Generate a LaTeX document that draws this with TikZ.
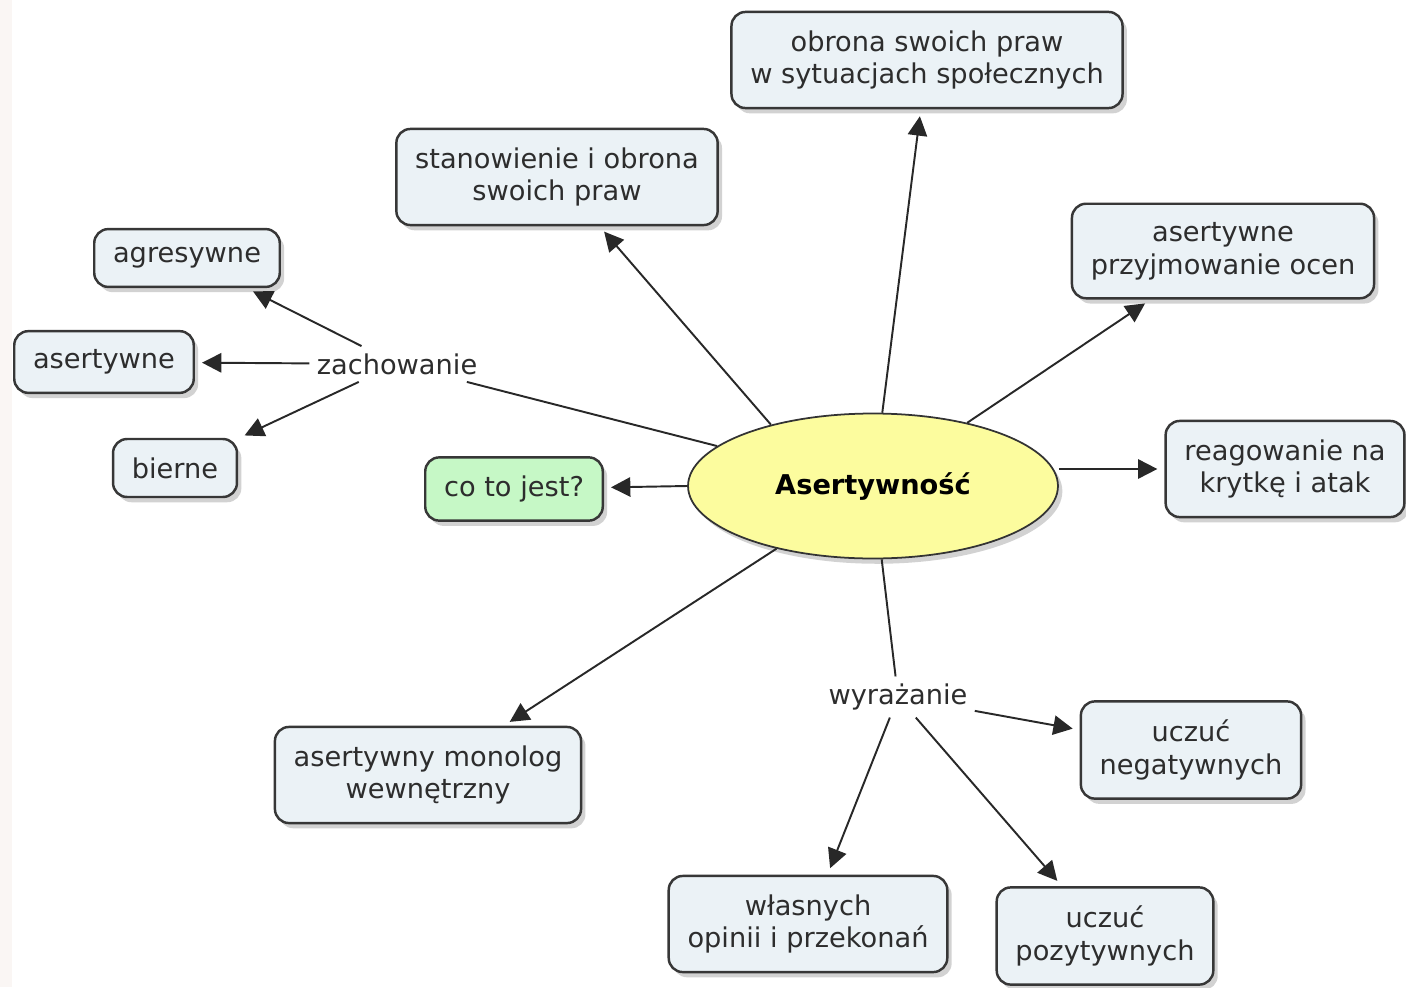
\documentclass[tikz,border=0pt]{standalone}
\usepackage{fontspec}
\setmainfont{DejaVu Sans}
\usetikzlibrary{shapes.geometric,shadows,arrows.meta}
\definecolor{boxfill}{RGB}{235,242,246}
\definecolor{boxline}{RGB}{55,55,55}
\definecolor{ellfill}{RGB}{252,252,158}
\definecolor{cofill}{RGB}{198,248,198}
\definecolor{linecol}{RGB}{40,40,40}
\definecolor{textcol}{RGB}{45,45,45}
\definecolor{stripcol}{RGB}{250,246,244}

\begin{document}
\begin{tikzpicture}[x = 0.02cm, y = -0.02cm,
    font = \fontsize{15.5}{18.7}\selectfont, text = textcol,
    box/.style = {draw = boxline, line width = 1.4pt, fill = boxfill, rounded corners = 8pt,
        align = center, inner xsep = 10.7pt, inner ysep = 10.5pt,
        drop shadow = {shadow xshift = 2.5pt, shadow yshift = -3pt, fill = black!35, opacity = 0.5}},
    lbl/.style = {inner sep = 4pt},
    conn/.style = {line width = 1.1pt, draw = linecol},
    arr/.style = {conn, -{Triangle[length = 11pt, width = 11pt]}, shorten > = 4pt}]
    \useasboundingbox (0,0) rectangle (1406,987);
    \fill[stripcol] (0,0) rectangle (12,987);
    \node[ellipse, draw = black!80, line width = 1pt, fill = ellfill, minimum width = 7.4cm, minimum height = 2.9cm,
        drop shadow = {shadow xshift = 2.5pt, shadow yshift = -3pt, fill = black!35, opacity = 0.5}]
        (CEN) at (873,486) {\bfseries\color{black}Asertywność};
    \node[box] (OBR) at (927,60) {obrona swoich praw\\w sytuacjach społecznych};
    \node[box] (STA) at (557,177) {stanowienie i obrona\\swoich praw};
    \node[box] (OCE) at (1223,251) {asertywne\\przyjmowanie ocen};
    \node[box] (REA) at (1285,469) {reagowanie na\\krytkę i atak};
    \node[box, fill = cofill] (CO) at (514,489) {co to jest?};
    \node[box] (MON) at (428,775) {asertywny monolog\\wewnętrzny};
    \node[lbl] (ZAC) at (397,364) {zachowanie};
    \node[box] (AGR) at (187,258) {agresywne};
    \node[box] (ASE) at (104,362) {asertywne};
    \node[box] (BIE) at (175,468) {bierne};
    \node[lbl] (WYR) at (898,697) {wyrażanie};
    \node[box] (NEG) at (1191,750) {uczuć\\negatywnych};
    \node[box] (WLA) at (808,924) {własnych\\opinii i przekonań};
    \node[box] (POZ) at (1105,936) {uczuć\\pozytywnych};
    \draw[arr] (CEN) -- (OBR);
    \draw[arr] (CEN.149) -- (STA);
    \draw[arr] (CEN) -- (OCE);
    \draw[arr] (CEN.east |- REA.west) -- (REA.west);
    \draw[arr] (CEN.west) -- (CO);
    \draw[arr] (CEN) -- (MON);
    \draw[conn] (CEN) -- (ZAC);
    \draw[arr] (ZAC) -- (AGR);
    \draw[arr] (ZAC) -- (ASE);
    \draw[arr] (ZAC) -- (BIE);
    \draw[conn] (CEN) -- (WYR);
    \draw[arr] (WYR) -- (NEG);
    \draw[arr] (WYR) -- (WLA);
    \draw[arr] (WYR) -- (POZ);
\end{tikzpicture}
\end{document}
